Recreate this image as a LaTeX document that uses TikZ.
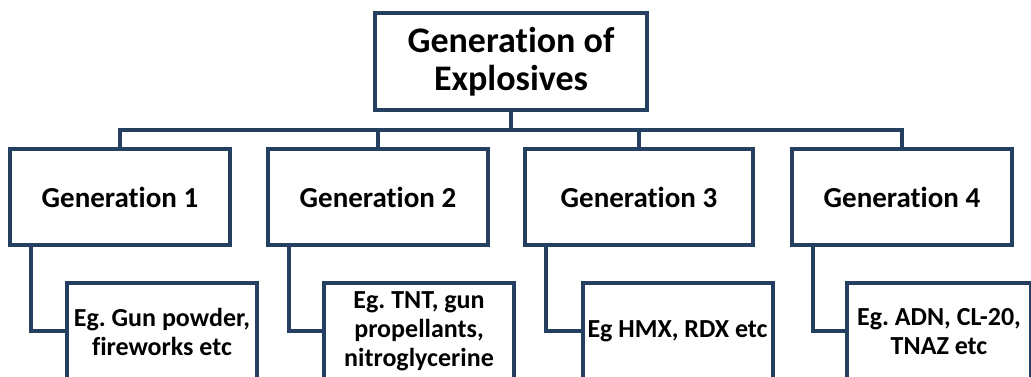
\documentclass[tikz,border=0pt]{standalone}
\usepackage{fontspec}
\setmainfont[Ligatures={NoCommon}]{Carlito}
\usepackage{tikz}
\usetikzlibrary{positioning, calc}
\definecolor{NavyLine}{HTML}{243F60}
\frenchspacing

\begin{document}
\begin{tikzpicture}[
    x=1pt, y=1pt,
    box/.style={draw=NavyLine, line width=4pt, fill=white, inner sep=0pt, align=center, text=black},
    topbox/.style={box, minimum width=272pt, minimum height=97pt, font=\bfseries\fontsize{36}{38}\selectfont},
    genbox/.style={box, minimum width=220pt, minimum height=96pt, font=\bfseries\fontsize{29}{34}\selectfont},
    subbox/.style={box, minimum width=190pt, minimum height=97pt, font=\bfseries\fontsize{26}{29}\selectfont},
    link/.style={draw=NavyLine, line width=4pt}
]
\useasboundingbox (0,0) rectangle (1031,377);
\clip (0,0) rectangle (1031,377);

% === Top box ===
\node[topbox] (top) at (511, 315.5) {Generation of\\Explosives};

% === Generation boxes ===
\node[genbox] (g1) at (120, 180) {Generation 1};
\node[genbox] (g2) at (378, 180) {Generation 2};
\node[genbox, minimum width=228pt] (g3) at (639, 180) {Generation 3};
\node[genbox] (g4) at (902, 180) {Generation 4};

% === Example boxes ===
\node[subbox] (s1) at (162, 45.5) {Eg. Gun powder,\\fireworks etc};
\node[subbox] (s2) at (419, 45.5) {Eg. TNT, gun\\propellants,\\nitroglycerine};
\node[subbox] (s3) at (677.5, 45.5) {Eg HMX, RDX etc};
\node[subbox, minimum width=184pt] (s4) at (939, 45.5) {Eg. ADN, CL-20,\\TNAZ etc};

% Bus from top box
\draw[link] (top.south) -- ++(0,-18) coordinate (bus);
\draw[link] (bus) -| (g1.north);
\draw[link] (bus) -| (g2.north);
\draw[link] (bus) -| (g3.north);
\draw[link] (bus) -| (g4.north);

% Elbows to examples
\draw[link] ([xshift=23pt]g1.south west) |- (s1.west);
\draw[link] ([xshift=23pt]g2.south west) |- (s2.west);
\draw[link] ([xshift=23pt]g3.south west) |- (s3.west);
\draw[link] ([xshift=23pt]g4.south west) |- (s4.west);
\end{tikzpicture}
\end{document}
